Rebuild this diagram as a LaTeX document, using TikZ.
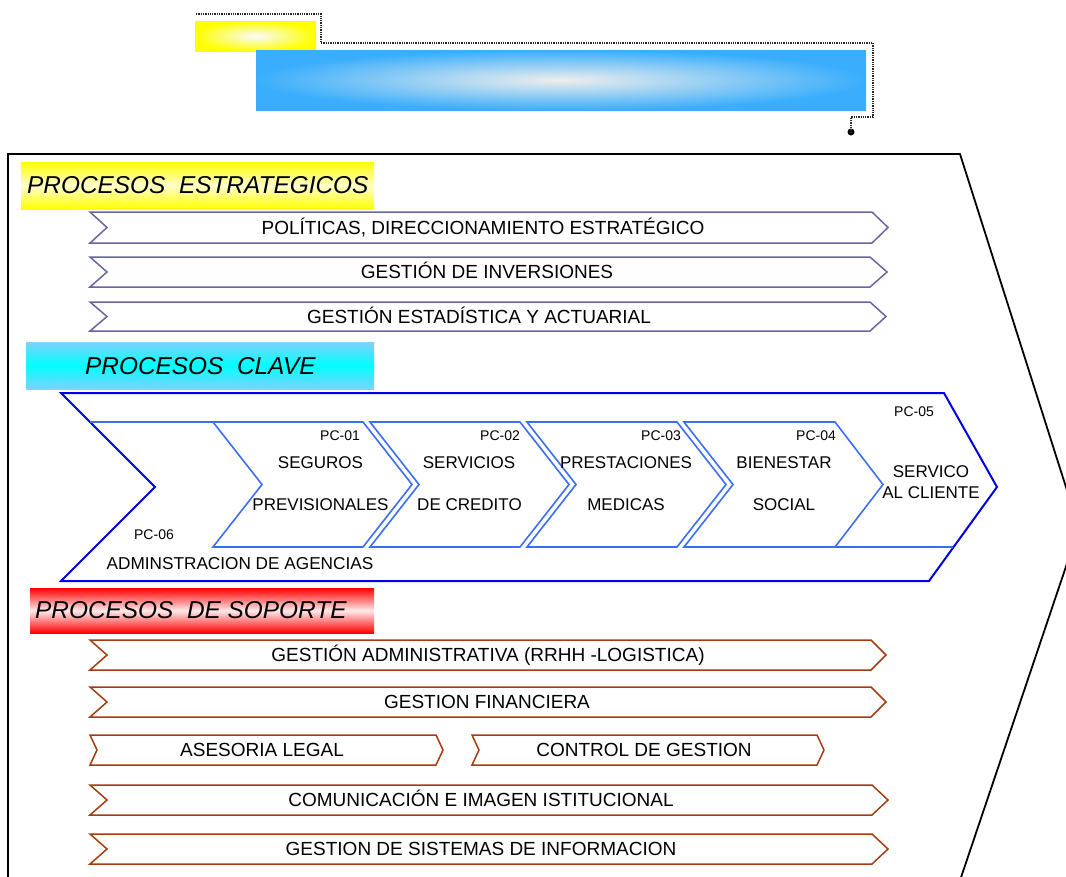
\documentclass[tikz,border=0pt]{standalone}
\usepackage{fontspec}
\setmainfont{Liberation Sans}
\definecolor{stratc}{RGB}{102,102,160}
\definecolor{supc}{RGB}{165,60,15}
\definecolor{pcout}{RGB}{0,0,225}
\definecolor{pcin}{RGB}{60,110,245}
\definecolor{topblue}{RGB}{58,174,252}
\definecolor{ltblue}{RGB}{128,208,255}
\newcommand\mychev[7]{%
  \draw[#1] (#2,#4) -- (#3,#4) -- ({#3+#7},{(#4+#5)/2}) -- (#3,#5) -- (#2,#5) -- ({#2+#6},{(#4+#5)/2}) -- cycle;}
\begin{document}
\begin{tikzpicture}[x=1pt,y=-1pt,
  strat/.style={draw=stratc, line width=1.5pt, line join=miter},
  sup/.style={draw=supc, line width=1.5pt, line join=miter},
  pcbox/.style={draw=pcin, line width=1.6pt, line join=miter},
  lbl/.style={inner sep=0pt, font=\fontsize{17}{20}\selectfont, text height=12.2pt, text depth=0pt},
  wlbl/.style={inner sep=0pt, font=\fontsize{19}{22}\selectfont, text height=13.2pt, text depth=0pt},
  pclbl/.style={inner sep=0pt, font=\fontsize{14}{16}\selectfont, text height=10pt, text depth=0pt},
  ttl/.style={inner sep=0pt, anchor=west, font=\fontsize{24.4}{28}\selectfont\itshape, text height=17.4pt, text depth=0pt},
  conn/.style={densely dotted, line width=1.3pt, black!85}]
\useasboundingbox (0,0) rectangle (1066,876);
\clip (0,0) rectangle (1066,876);

% top decoration
\shade[inner color=white!85!blue!15, outer color=yellow] (195,21) rectangle (316,51);
\shade[inner color={rgb,255:red,238;green,238;blue,236}, outer color=topblue] (256,50) rectangle (866,110);
\coordinate (c0) at (196,14);
\coordinate (c1) at (321,14);
\coordinate (c2) at (321,43);
\coordinate (c3) at (873,43);
\coordinate (c4) at (873,117);
\coordinate (c5) at (851,117);
\node[circle, fill=black, inner sep=0pt, minimum size=7pt] (dot) at (851,132) {};
\draw[conn] (c0) -- (c1) -- (c2) -- (c3) -- (c4) -- (c5) -- (dot.center);

% outer frame
\draw[line width=1.8pt, line join=miter] (8,154) -- (960,154) -- (1079,528) -- (950,910) -- (8,910) -- cycle;

% title boxes
\shade[top color=yellow, bottom color=yellow, middle color=yellow!20!white] (21,162) rectangle (374,209);
\node[ttl] (tstrat) at (27,185) {PROCESOS\ \ ESTRATEGICOS};
\shade[top color=ltblue, bottom color=ltblue, middle color=cyan] (26,342) rectangle (374,389);
\node[ttl] (tclave) at (85,365.5) {PROCESOS\ \ CLAVE};
\shade[top color=red, bottom color=red, middle color=red!8!white] (30,588) rectangle (374,633);
\node[ttl] (tsop) at (35,609.5) {PROCESOS\ \ DE SOPORTE};

% strategic processes
\mychev{strat}{90}{872}{212}{243}{17}{16}
\node[wlbl] (e1) at (483,227.5) {POLÍTICAS, DIRECCIONAMIENTO ESTRATÉGICO};
\mychev{strat}{90}{870}{257}{287}{17}{17}
\node[wlbl] (e2) at (487,272) {GESTIÓN DE INVERSIONES};
\mychev{strat}{90}{870}{302}{331}{17}{16}
\node[wlbl] (e3) at (479,316.5) {GESTIÓN ESTADÍSTICA Y ACTUARIAL};

% key processes
\draw[draw=pcout, line width=2pt, line join=miter] (61,393) -- (944,393) -- (997,487) -- (929,581) -- (61,581) -- (155,487) -- cycle;
\draw[pcin, line width=1.6pt] (90,422) -- (213,422);
\draw[pcin, line width=1.6pt] (835,547) -- (953,547);
\mychev{pcbox}{213}{363}{422}{547}{49}{49}
\mychev{pcbox}{370}{520}{422}{547}{49}{49}
\mychev{pcbox}{527}{677}{422}{547}{49}{49}
\mychev{pcbox}{684}{835}{422}{547}{49}{48}

\node[pclbl] (p1) at (340,435) {PC-01};
\node[pclbl] (p2) at (500,435) {PC-02};
\node[pclbl] (p3) at (661,435) {PC-03};
\node[pclbl] (p4) at (816,435) {PC-04};
\node[pclbl] (p5) at (914,411) {PC-05};
\node[pclbl] (p6) at (154,534) {PC-06};

\node[lbl] (k1a) at (320.5,462) {SEGUROS};
\node[lbl] (k1b) at (320.5,504) {PREVISIONALES};
\node[lbl] (k2a) at (469,462) {SERVICIOS};
\node[lbl] (k2b) at (469.5,504) {DE CREDITO};
\node[lbl] (k3a) at (626,462) {PRESTACIONES};
\node[lbl] (k3b) at (626,504) {MEDICAS};
\node[lbl] (k4a) at (784,462) {BIENESTAR};
\node[lbl] (k4b) at (784,504) {SOCIAL};
\node[lbl] (k5a) at (931,471) {SERVICO};
\node[lbl] (k5b) at (931,492) {AL CLIENTE};
\node[lbl, font=\fontsize{17.2}{20}\selectfont] (k6) at (240,563) {ADMINSTRACION DE AGENCIAS};

% support processes
\mychev{sup}{90}{871}{640}{670}{17}{15}
\node[wlbl] (s1) at (488,655) {GESTIÓN ADMINISTRATIVA (RRHH -LOGISTICA)};
\mychev{sup}{90}{871}{687}{717}{17}{15}
\node[wlbl] (s2) at (487,702) {GESTION FINANCIERA};
\mychev{sup}{90}{436}{735}{765}{7}{7}
\node[wlbl] (s3) at (262,749.5) {ASESORIA LEGAL};
\mychev{sup}{472}{817}{735}{765}{7}{7}
\node[wlbl] (s4) at (644,750) {CONTROL DE GESTION};
\mychev{sup}{90}{872}{785}{815}{17}{16}
\node[wlbl] (s5) at (481,799.5) {COMUNICACIÓN E IMAGEN ISTITUCIONAL};
\mychev{sup}{90}{872}{834}{864}{17}{16}
\node[wlbl] (s6) at (481,848.5) {GESTION DE SISTEMAS DE INFORMACION};
\end{tikzpicture}
\end{document}
